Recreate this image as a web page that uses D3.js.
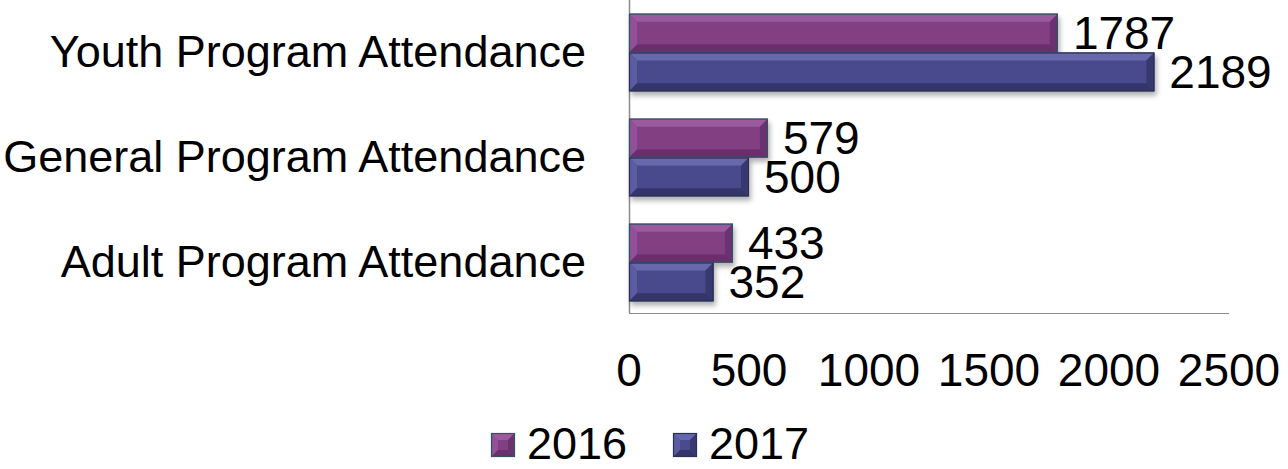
<!DOCTYPE html>
<html>
<head>
<meta charset="utf-8">
<script src="https://cdn.jsdelivr.net/npm/d3@7"></script>
<style>
body{margin:0;background:#fff;}
text{font-family:"Liberation Sans",Arial,sans-serif;fill:#000;}
</style>
</head>
<body>
<div id="chart"></div>
<script>
// data
var categories = ["Youth Program Attendance", "General Program Attendance", "Adult Program Attendance"];
var seriesNames = ["2016", "2017"];
var values2016 = [1787, 579, 433];
var values2017 = [2189, 500, 352];
var tickValues = [0, 500, 1000, 1500, 2000, 2500];

var width = 1288, height = 469;
var plot = {left: 629, right: 1229, top: 0, bottom: 313};

// face, top, left, bottom, right, stroke
var colors = {
  "2016": {face:"#823f82", top:"#9b5a9e", left:"#92509a", bottom:"#6b2f6d", right:"#6a3270", stroke:"#2d5560"},
  "2017": {face:"#4a4a8e", top:"#6767ad", left:"#5b5ba2", bottom:"#35356a", right:"#393970", stroke:"#2a2f55"}
};

var svg = d3.select("#chart").append("svg")
  .attr("width", width)
  .attr("height", height);

var defs = svg.append("defs");
var shadow = defs.append("filter").attr("id", "shadow")
  .attr("x", "-5%").attr("y", "-20%").attr("width", "115%").attr("height", "160%");
shadow.append("feDropShadow")
  .attr("dx", 2).attr("dy", 4).attr("stdDeviation", 2.5)
  .attr("flood-color", "#000").attr("flood-opacity", 0.3);

var x = d3.scaleLinear()
  .domain([0, 2500])
  .range([plot.left, plot.right]);

var y = d3.scaleBand()
  .domain(categories)
  .range([plot.top, plot.bottom + 2])
  .paddingInner(0.26)
  .paddingOuter(0.13);

var ySub = d3.scaleBand()
  .domain(seriesNames)
  .range([0, y.bandwidth()]);

var rows = [];
categories.forEach(function(c, i){
  rows.push({cat: c, series: "2016", value: values2016[i]});
  rows.push({cat: c, series: "2017", value: values2017[i]});
});

// axis lines
svg.append("line")
  .attr("x1", plot.left + 0.5).attr("x2", plot.left + 0.5)
  .attr("y1", plot.top).attr("y2", plot.bottom)
  .attr("stroke", "#8c8c8c").attr("stroke-width", 1.5);
svg.append("line")
  .attr("x1", plot.left).attr("x2", plot.right)
  .attr("y1", plot.bottom + 0.5).attr("y2", plot.bottom + 0.5)
  .attr("stroke", "#8c8c8c").attr("stroke-width", 1);

// bevelled bars
var bev = 8;
var bars = svg.append("g").selectAll("g.bar")
  .data(rows)
  .enter().append("g")
  .attr("class", "bar")
  .attr("filter", "url(#shadow)");

bars.each(function(d){
  var g = d3.select(this);
  var c = colors[d.series];
  var x0 = x(0), x1 = x(d.value);
  var y0 = y(d.cat) + ySub(d.series), y1 = y0 + ySub.bandwidth();
  var b = Math.min(bev, (x1 - x0) / 2);
  g.append("rect")
    .attr("x", x0).attr("y", y0)
    .attr("width", x1 - x0).attr("height", y1 - y0)
    .attr("fill", c.face);
  var polys = [
    {pts: [[x0,y0],[x1,y0],[x1-b,y0+b],[x0+b,y0+b]], fill: c.top},
    {pts: [[x0,y0],[x0+b,y0+b],[x0+b,y1-b],[x0,y1]], fill: c.left},
    {pts: [[x0,y1],[x0+b,y1-b],[x1-b,y1-b],[x1,y1]], fill: c.bottom},
    {pts: [[x1,y0],[x1,y1],[x1-b,y1-b],[x1-b,y0+b]], fill: c.right}
  ];
  polys.forEach(function(p){
    g.append("polygon")
      .attr("points", p.pts.map(function(q){return q.join(",");}).join(" "))
      .attr("fill", p.fill);
  });
  g.append("rect")
    .attr("x", x0 + 0.5).attr("y", y0 + 0.5)
    .attr("width", x1 - x0 - 1).attr("height", y1 - y0 - 1)
    .attr("fill", "none")
    .attr("stroke", c.stroke).attr("stroke-width", 1.2);
});

// value labels
svg.append("g").selectAll("text")
  .data(rows)
  .enter().append("text")
  .attr("x", function(d){return x(d.value) + 15;})
  .attr("y", function(d){return y(d.cat) + ySub(d.series) + ySub.bandwidth() / 2 + 16;})
  .style("font-size", "46px")
  .text(function(d){return d.value;});

// category labels
svg.append("g").selectAll("text")
  .data(categories)
  .enter().append("text")
  .attr("x", 586)
  .attr("y", function(d){return y(d) + y.bandwidth() / 2 + 14;})
  .attr("text-anchor", "end")
  .style("font-size", "45px")
  .text(function(d){return d;});

// x tick labels
svg.append("g").selectAll("text")
  .data(tickValues)
  .enter().append("text")
  .attr("x", function(d){return x(d);})
  .attr("y", 386)
  .attr("text-anchor", "middle")
  .style("font-size", "46px")
  .text(function(d){return d;});

// legend
var legendX = [491, 673];
var legend = svg.append("g").selectAll("g")
  .data(seriesNames)
  .enter().append("g")
  .attr("transform", function(d, i){return "translate(" + legendX[i] + ",433)";});

legend.each(function(d){
  var g = d3.select(this);
  var c = colors[d];
  var s = 24, b = 7;
  g.append("rect").attr("width", s).attr("height", s).attr("fill", c.face);
  [
    {pts: [[0,0],[s,0],[s-b,b],[b,b]], fill: c.top},
    {pts: [[0,0],[b,b],[b,s-b],[0,s]], fill: c.left},
    {pts: [[0,s],[b,s-b],[s-b,s-b],[s,s]], fill: c.bottom},
    {pts: [[s,0],[s,s],[s-b,s-b],[s-b,b]], fill: c.right}
  ].forEach(function(p){
    g.append("polygon")
      .attr("points", p.pts.map(function(q){return q.join(",");}).join(" "))
      .attr("fill", p.fill);
  });
  g.append("rect").attr("x", 0.5).attr("y", 0.5).attr("width", s - 1).attr("height", s - 1)
    .attr("fill", "none").attr("stroke", c.stroke).attr("stroke-width", 1.2);
  g.append("text")
    .attr("x", 36)
    .attr("y", 26)
    .style("font-size", "45px")
    .text(d);
});
</script>
</body>
</html>
